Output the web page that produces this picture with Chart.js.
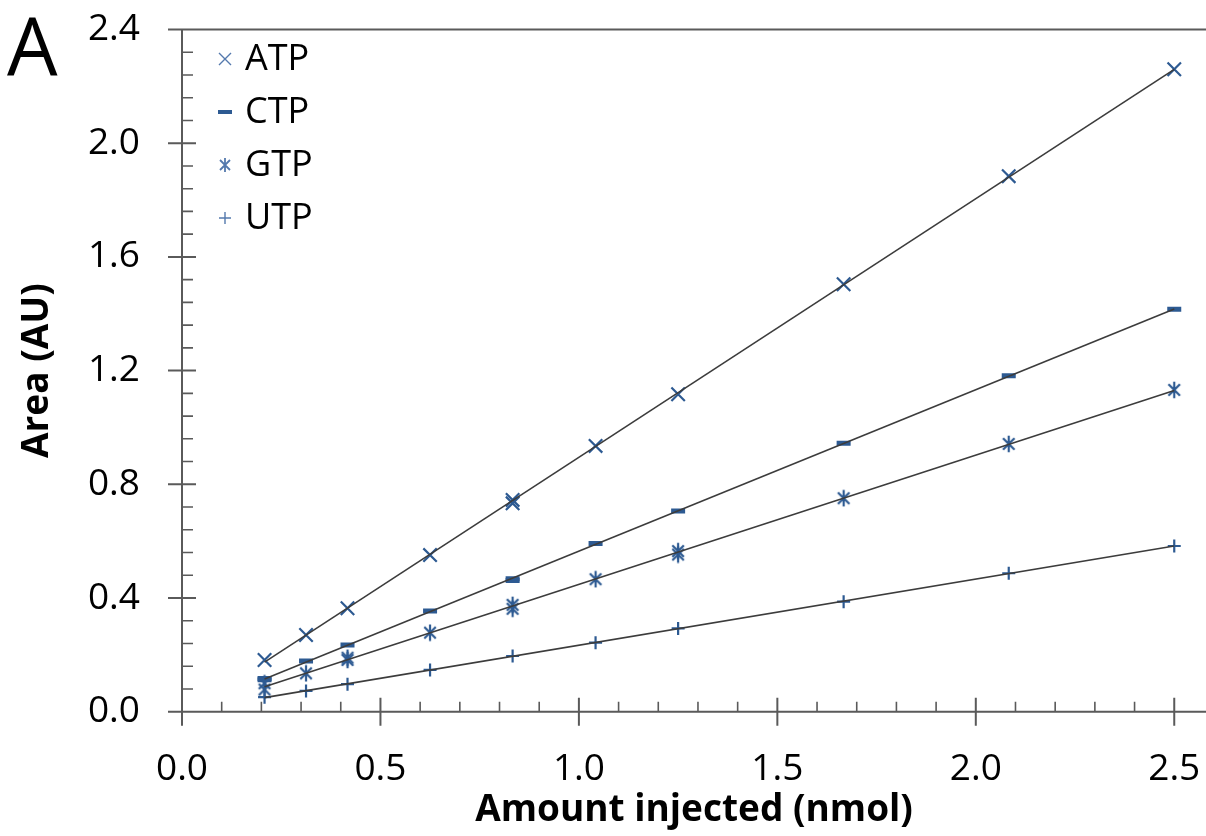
<!DOCTYPE html>
<html lang="en">
<head>
    <meta charset="UTF-8">
    <title>Nucleotide calibration (A)</title>
    <script src="https://cdn.jsdelivr.net/npm/chart.js"></script>
    <style>
        html, body {
            margin: 0;
            padding: 0;
            background: #fff;
            overflow: hidden;
        }
        #calChart {
            position: absolute;
            left: 0;
            top: 0;
            display: block;
        }
    </style>
</head>
<body>
    <canvas id="calChart" width="1206" height="836"></canvas>
    <script>
        // injected amounts (nmol)
        const amounts = [0.208, 0.3125, 0.417, 0.625, 0.833, 1.042, 1.25, 1.667, 2.083, 2.5];

        // peak areas (AU)
        const atp = [0.182, 0.270, 0.364, 0.551, 0.745, 0.935, 1.117, 1.504, 1.884, 2.260];
        const ctp = [0.117, 0.178, 0.235, 0.354, 0.468, 0.592, 0.706, 0.944, 1.182, 1.416];
        const gtp = [0.100, 0.135, 0.190, 0.278, 0.376, 0.466, 0.565, 0.751, 0.942, 1.132];
        const utp = [0.051, 0.073, 0.097, 0.147, 0.196, 0.243, 0.293, 0.387, 0.487, 0.583];

        // second injections that show up as separate marks
        const atpRepeat = [null, null, null, null, 0.733, null, null, null, null, null];
        const ctpRepeat = [0.112, null, null, null, 0.462, null, null, null, null, null];
        const gtpRepeat = [0.078, null, 0.182, null, 0.362, null, 0.553, null, null, null];

        const names = ['ATP', 'CTP', 'GTP', 'UTP'];
        const yTicks = [0, 0.4, 0.8, 1.2, 1.6, 2.0, 2.4];
        const xTicks = [0, 0.5, 1.0, 1.5, 2.0, 2.5];

        const markColor = '#2d5a92';
        const legendColor = '#5479ad';
        const axisColor = '#5a5a5a';

        // excel style star: an x with a vertical bar through it
        function makeStar(size, color, lw) {
            const c = document.createElement('canvas');
            c.width = size;
            c.height = size;
            const g = c.getContext('2d');
            const m = size / 2;
            const d = size * 0.32;
            g.strokeStyle = color;
            g.lineWidth = lw;
            g.beginPath();
            g.moveTo(m - d, m - d); g.lineTo(m + d, m + d);
            g.moveTo(m + d, m - d); g.lineTo(m - d, m + d);
            g.moveTo(m, m - size * 0.46); g.lineTo(m, m + size * 0.46);
            g.stroke();
            return c;
        }
        const starMark = makeStar(18, markColor, 2.2);

        function points(values) {
            const out = [];
            values.forEach((v, i) => {
                if (v !== null) out.push({ x: amounts[i], y: v });
            });
            return out;
        }

        // least squares trendline through every mark of a series
        function trend(values, repeats) {
            const pts = points(values).concat(repeats ? points(repeats) : []);
            const n = pts.length;
            let sx = 0, sy = 0, sxx = 0, sxy = 0;
            pts.forEach(p => { sx += p.x; sy += p.y; sxx += p.x * p.x; sxy += p.x * p.y; });
            const slope = (n * sxy - sx * sy) / (n * sxx - sx * sx);
            const icpt = (sy - slope * sx) / n;
            const x0 = amounts[0];
            const x1 = amounts[amounts.length - 1];
            return [{ x: x0, y: icpt + slope * x0 }, { x: x1, y: icpt + slope * x1 }];
        }

        const markStyles = [
            { pointStyle: 'crossRot', pointRadius: 9.5, pointBorderWidth: 2.2 },
            { pointStyle: 'line', pointRadius: 7, pointBorderWidth: 5 },
            { pointStyle: starMark, pointRadius: 9, pointBorderWidth: 2 },
            { pointStyle: 'cross', pointRadius: 6.5, pointBorderWidth: 2.2 }
        ];
        const seriesValues = [atp, ctp, gtp, utp];
        const seriesRepeats = [atpRepeat, ctpRepeat, gtpRepeat, null];

        const datasets = [];
        seriesValues.forEach((vals, i) => {
            datasets.push(Object.assign({
                label: names[i],
                data: points(vals).concat(seriesRepeats[i] ? points(seriesRepeats[i]) : []),
                showLine: false,
                pointBorderColor: markColor,
                pointBackgroundColor: markColor,
                order: 2
            }, markStyles[i]));
        });
        seriesValues.forEach((vals, i) => {
            datasets.push({
                label: names[i] + ' fit',
                data: trend(vals, seriesRepeats[i]),
                showLine: true,
                borderColor: '#3c3c3c',
                borderWidth: 1.6,
                pointRadius: 0,
                order: 1
            });
        });

        // fixed box sizes, no extra padding for overhanging labels
        function pinX(s) {
            s.height = 124.3;
            s.paddingLeft = s.paddingRight = s.paddingTop = s.paddingBottom = 0;
        }
        function pinY(s) {
            s.width = 182;
            s.paddingLeft = s.paddingRight = s.paddingTop = s.paddingBottom = 0;
        }

        // axes, crossing ticks, legend and panel letter
        const frame = {
            id: 'frame',
            afterDraw(chart) {
                const ctx = chart.ctx;
                const xs = chart.scales.x;
                const ys = chart.scales.y;
                const left = xs.getPixelForValue(0);
                const bottom = ys.getPixelForValue(0);
                const top = ys.getPixelForValue(2.4);
                const right = chart.width;
                const big = 14;
                ctx.save();
                ctx.strokeStyle = axisColor;
                ctx.lineWidth = 2;
                ctx.beginPath();
                ctx.moveTo(left, top); ctx.lineTo(left, bottom + big);
                ctx.moveTo(left - big, bottom); ctx.lineTo(right, bottom);
                ctx.moveTo(left - big, top); ctx.lineTo(right, top);
                yTicks.forEach(v => {
                    const py = ys.getPixelForValue(v);
                    ctx.moveTo(left - big, py); ctx.lineTo(left + big, py);
                });
                xTicks.forEach(v => {
                    const px = xs.getPixelForValue(v);
                    ctx.moveTo(px, bottom - big); ctx.lineTo(px, bottom + big);
                });
                ctx.stroke();

                ctx.lineWidth = 1.6;
                ctx.beginPath();
                for (let k = 1; k < 30; k++) {
                    if (k % 5 === 0) continue;
                    const py = ys.getPixelForValue(k * 0.08);
                    ctx.moveTo(left, py); ctx.lineTo(left + 11, py);
                }
                for (let k = 1; k < 26; k++) {
                    if (k % 5 === 0) continue;
                    const px = xs.getPixelForValue(k * 0.1);
                    ctx.moveTo(px, bottom); ctx.lineTo(px, bottom - 10);
                }
                ctx.stroke();

                // legend
                const lx = 225;
                ctx.fillStyle = '#000';
                ctx.font = '36px "Open Sans"';
                ctx.textBaseline = 'middle';
                ctx.textAlign = 'left';
                names.forEach((name, i) => {
                    const ly = 59 + i * 53;
                    ctx.strokeStyle = legendColor;
                    ctx.lineWidth = 1.4;
                    ctx.beginPath();
                    if (i === 0) {
                        ctx.moveTo(lx - 6, ly - 6); ctx.lineTo(lx + 6, ly + 6);
                        ctx.moveTo(lx + 6, ly - 6); ctx.lineTo(lx - 6, ly + 6);
                    } else if (i === 1) {
                        ctx.lineWidth = 4;
                        ctx.strokeStyle = markColor;
                        ctx.moveTo(lx - 7, ly); ctx.lineTo(lx + 7, ly);
                    } else if (i === 2) {
                        ctx.lineWidth = 1.8;
                        ctx.moveTo(lx - 5, ly - 5); ctx.lineTo(lx + 5, ly + 5);
                        ctx.moveTo(lx + 5, ly - 5); ctx.lineTo(lx - 5, ly + 5);
                        ctx.moveTo(lx, ly - 7); ctx.lineTo(lx, ly + 7);
                    } else {
                        ctx.moveTo(lx - 6, ly); ctx.lineTo(lx + 6, ly);
                        ctx.moveTo(lx, ly - 6); ctx.lineTo(lx, ly + 6);
                    }
                    ctx.stroke();
                    ctx.fillText(name, 245, ly + 1);
                });

                ctx.font = '80px "Open Sans"';
                ctx.textBaseline = 'alphabetic';
                ctx.fillText('A', 7, 75);
                ctx.restore();
            }
        };

        Chart.defaults.font.family = '"Open Sans", sans-serif';
        Chart.defaults.color = '#000';

        new Chart(document.getElementById('calChart'), {
            type: 'scatter',
            data: { datasets: datasets },
            options: {
                responsive: false,
                devicePixelRatio: 1,
                animation: false,
                events: [],
                layout: {
                    autoPadding: false,
                    padding: { top: 29.5, right: 0, bottom: 0, left: 0 }
                },
                plugins: {
                    legend: { display: false },
                    tooltip: { enabled: false }
                },
                scales: {
                    x: {
                        type: 'linear',
                        min: 0,
                        // the axis is cut by the right edge of the figure
                        max: 2.58,
                        afterFit: pinX,
                        grid: { display: false, drawTicks: false },
                        border: { display: false },
                        ticks: {
                            stepSize: 0.5,
                            includeBounds: false,
                            padding: 36,
                            font: { size: 37 },
                            callback: v => v.toFixed(1)
                        },
                        title: {
                            display: true,
                            text: 'Amount injected (nmol)',
                            font: { size: 37, weight: 'bold' },
                            padding: { top: 0, bottom: 3 }
                        }
                    },
                    y: {
                        min: 0,
                        max: 2.4,
                        afterFit: pinY,
                        grid: { display: false, drawTicks: false },
                        border: { display: false },
                        ticks: {
                            stepSize: 0.4,
                            padding: 42,
                            font: { size: 37 },
                            callback: v => v.toFixed(1)
                        },
                        title: {
                            display: true,
                            text: 'Area (AU)',
                            font: { size: 37, weight: 'bold' },
                            padding: { top: 15, bottom: 0 }
                        }
                    }
                }
            },
            plugins: [frame]
        });
    </script>
</body>
</html>
